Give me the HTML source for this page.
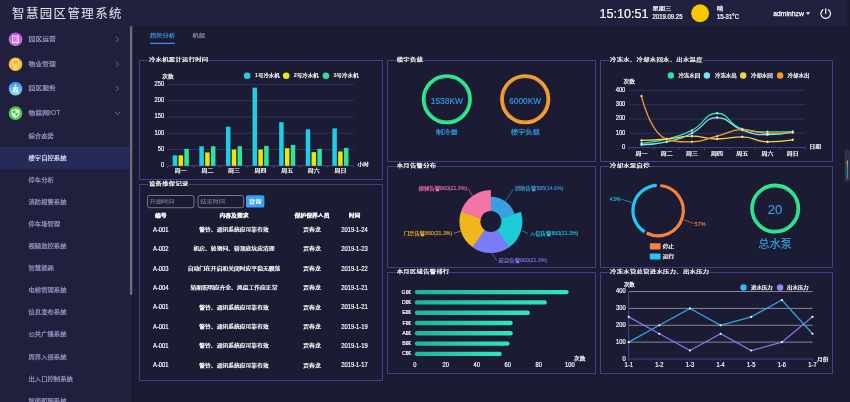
<!DOCTYPE html>
<html lang="zh-CN"><head><meta charset="utf-8"><title>智慧园区管理系统</title>
<style>
*{margin:0;padding:0;box-sizing:border-box}
html,body{width:850px;height:402px;overflow:hidden;background:#1c1b34}
svg{position:absolute;left:0;top:0;font-family:"Liberation Sans","Noto Sans CJK SC",sans-serif}
</style></head><body>
<svg width="850" height="402" viewBox="0 0 850 402">
<defs>
<linearGradient id="ig0" x1="0" y1="0" x2="0" y2="1"><stop offset="0" stop-color="#c054e8"/><stop offset="1" stop-color="#d27af2"/></linearGradient>
<linearGradient id="ig1" x1="0" y1="0" x2="0" y2="1"><stop offset="0" stop-color="#f7b230"/><stop offset="1" stop-color="#fcc640"/></linearGradient>
<linearGradient id="ig2" x1="0" y1="0" x2="0" y2="1"><stop offset="0" stop-color="#2a95f5"/><stop offset="1" stop-color="#8adaff"/></linearGradient>
<linearGradient id="ig3" x1="0" y1="0" x2="0" y2="1"><stop offset="0" stop-color="#3cc43c"/><stop offset="1" stop-color="#50d850"/></linearGradient>
<linearGradient id="rk" x1="0" y1="0" x2="1" y2="0"><stop offset="0" stop-color="#1eb597"/><stop offset="1" stop-color="#2ee8b9"/></linearGradient>
<linearGradient id="vm" x1="0" y1="0" x2="0" y2="1"><stop offset="0" stop-color="#d8d020"/><stop offset="0.4" stop-color="#3aa0c0"/><stop offset="1" stop-color="#2a8fe0"/></linearGradient>
</defs>
<rect x="0" y="0" width="847" height="26" fill="#21203f"/>
<text x="12.1" y="17.8" font-size="12.4" fill="#e4e4ee" stroke="#e4e4ee" stroke-width="0.05" letter-spacing="1.45">智慧园区管理系统</text>
<text x="599.60" y="17.76" font-size="12.6" fill="#fff" stroke="#fff" stroke-width="0.2">15:10:51</text>
<text transform="translate(652.60 10.07) scale(1.0 0.74)" font-size="6.2" fill="#fff" stroke="#fff" stroke-width="0.3">星期三</text>
<text transform="translate(652.50 18.91) scale(0.91 1.0)" font-size="6.6" fill="#fff" stroke="#fff" stroke-width="0.22">2019.09.25</text>
<circle cx="700.1" cy="13.25" r="8.95" fill="#f7c800"/>
<text transform="translate(716.90 10.02) scale(1.0 0.74)" font-size="6.2" fill="#fff" stroke="#fff" stroke-width="0.3">晴</text>
<text transform="translate(716.90 19.11) scale(0.91 1.0)" font-size="6.6" fill="#fff" stroke="#fff" stroke-width="0.22">15-31°C</text>
<text x="773.3" y="15.9" font-size="6.8" fill="#fff" stroke="#fff" stroke-width="0.25">adminhzw</text>
<path d="M805.9 12.2 L810.1 12.2 L808 14.8 Z" fill="#fff"/>
<path d="M822.95 9.72 A4.8 4.8 0 1 0 828.45 9.72" fill="none" stroke="#fff" stroke-width="1.2" stroke-linecap="round"/>
<line x1="825.7" y1="8.8" x2="825.7" y2="13.5" stroke="#fff" stroke-width="1.2" stroke-linecap="round"/>
<rect x="0" y="26" width="132.3" height="377" fill="#201f3e"/>
<rect x="132.3" y="26" width="1.7" height="377" fill="#19182e"/>
<rect x="129.9" y="26" width="2.4" height="269" rx="1.2" fill="#6c6c7e"/>
<circle cx="15.5" cy="39.3" r="6.8" fill="url(#ig0)"/>
<text transform="translate(28.60 41.00) scale(1.0 0.88)" font-size="6.8" fill="#9898c4" stroke="#9898c4" stroke-width="0.22999999999999998">园区运营</text>
<path d="M115.9 36.80 L118.6 39.30 L115.9 41.80" fill="none" stroke="#8a8aa6" stroke-width="0.75"/>
<circle cx="15.5" cy="64.2" r="6.8" fill="url(#ig1)"/>
<text transform="translate(28.60 66.00) scale(1.0 0.88)" font-size="6.8" fill="#9898c4" stroke="#9898c4" stroke-width="0.22999999999999998">物业管理</text>
<path d="M115.9 61.70 L118.6 64.20 L115.9 66.70" fill="none" stroke="#8a8aa6" stroke-width="0.75"/>
<circle cx="15.5" cy="88.6" r="6.8" fill="url(#ig2)"/>
<text transform="translate(28.60 90.00) scale(1.0 0.88)" font-size="6.8" fill="#9898c4" stroke="#9898c4" stroke-width="0.22999999999999998">园区服务</text>
<path d="M115.9 86.10 L118.6 88.60 L115.9 91.10" fill="none" stroke="#8a8aa6" stroke-width="0.75"/>
<circle cx="15.5" cy="113.1" r="6.8" fill="url(#ig3)"/>
<text transform="translate(28.60 115.00) scale(1.0 0.88)" font-size="6.8" fill="#9898c4" stroke="#9898c4" stroke-width="0.22999999999999998">物联网</text>
<text transform="translate(49.00 115.00) scale(0.95 1.0)" font-size="7.2" fill="#9898c4" stroke="#9898c4" stroke-width="0.15">IOT</text>
<path d="M114.9 112.00 L117.5 114.40 L120.1 112.00" fill="none" stroke="#8a8aa6" stroke-width="0.75"/>
<rect x="12.45" y="35.95" width="6.1" height="6.5" fill="none" stroke="#fff" stroke-width="0.8"/>
<path d="M17 36.8 L17 41.6" stroke="#fff" stroke-width="0.7"/>
<polyline points="13.7,37 15.3,38.2 13.7,39.4 15.3,40.6 13.7,41.7" fill="none" stroke="#fff" stroke-width="0.6" stroke-dasharray="0.9 0.5"/>
<path d="M13.8 66 C12.5 64.9 11.9 63.8 12 62.6 A3.45 3.45 0 0 1 18.9 62.6 C19 63.8 18.4 64.9 17.1 66 Z" fill="none" stroke="#fff" stroke-opacity="0.85" stroke-width="0.7"/>
<polyline points="13.9,63.4 14.7,65.4 15.45,63.9 16.2,65.4 17,63.4" fill="none" stroke="#fff" stroke-opacity="0.85" stroke-width="0.55"/>
<path d="M13.9 67.1 L17 67.1 M14.3 68.1 L16.6 68.1" stroke="#fff" stroke-opacity="0.85" stroke-width="0.6"/>
<ellipse cx="15.5" cy="85.1" rx="1.3" ry="0.7" fill="#fff"/>
<path d="M15.5 85.6 L15.5 87.3" stroke="#fff" stroke-width="0.6"/>
<rect x="12.9" y="87.2" width="5.2" height="5.2" fill="#fff"/>
<rect x="13.6" y="87.8" width="0.9" height="0.9" fill="#4aaaf5"/><rect x="16.5" y="87.8" width="0.9" height="0.9" fill="#4aaaf5"/>
<path d="M12.9 89.5 L18.1 89.5" stroke="#7cc8ff" stroke-width="0.4"/>
<path d="M14.8 90.6 L16.2 90.6 L15.5 91.8 Z" fill="#4aaaf5"/>
<path d="M15.5 109.1 L19.2 110.4 L19.2 113.5 Q19 116.4 15.5 117.5 Q12 116.4 11.8 113.5 L11.8 110.4 Z" fill="#fff" stroke="#fff" stroke-width="0.5"/>
<path d="M15.5 110 L15.5 113.3 L12.6 113.3 L12.6 110.9 Z M15.5 113.3 L18.4 113.3 Q18.2 115.8 15.5 116.6 Z" fill="#3cc03c"/>
<rect x="0" y="147" width="130" height="22.3" fill="#252a58"/>
<text transform="translate(28.50 138.00) scale(1.0 0.86)" font-size="6.35" fill="#9898c4" stroke="#9898c4" stroke-width="0.22999999999999998">综合态势</text>
<text transform="translate(28.50 160.05) scale(1.0 0.86)" font-size="6.35" fill="#dedef2" stroke="#dedef2" stroke-width="0.22999999999999998">楼宇自控系统</text>
<text transform="translate(28.50 182.10) scale(1.0 0.86)" font-size="6.35" fill="#9898c4" stroke="#9898c4" stroke-width="0.22999999999999998">停车分析</text>
<text transform="translate(28.50 204.15) scale(1.0 0.86)" font-size="6.35" fill="#9898c4" stroke="#9898c4" stroke-width="0.22999999999999998">消防报警系统</text>
<text transform="translate(28.50 226.20) scale(1.0 0.86)" font-size="6.35" fill="#9898c4" stroke="#9898c4" stroke-width="0.22999999999999998">停车场管理</text>
<text transform="translate(28.50 248.25) scale(1.0 0.86)" font-size="6.35" fill="#9898c4" stroke="#9898c4" stroke-width="0.22999999999999998">视频监控系统</text>
<text transform="translate(28.50 270.30) scale(1.0 0.86)" font-size="6.35" fill="#9898c4" stroke="#9898c4" stroke-width="0.22999999999999998">智慧能耗</text>
<text transform="translate(28.50 292.35) scale(1.0 0.86)" font-size="6.35" fill="#9898c4" stroke="#9898c4" stroke-width="0.22999999999999998">电梯管理系统</text>
<text transform="translate(28.50 314.40) scale(1.0 0.86)" font-size="6.35" fill="#9898c4" stroke="#9898c4" stroke-width="0.22999999999999998">信息发布系统</text>
<text transform="translate(28.50 336.45) scale(1.0 0.86)" font-size="6.35" fill="#9898c4" stroke="#9898c4" stroke-width="0.22999999999999998">公共广播系统</text>
<text transform="translate(28.50 358.50) scale(1.0 0.86)" font-size="6.35" fill="#9898c4" stroke="#9898c4" stroke-width="0.22999999999999998">周界入侵系统</text>
<text transform="translate(28.50 380.55) scale(1.0 0.86)" font-size="6.35" fill="#9898c4" stroke="#9898c4" stroke-width="0.22999999999999998">出入口控制系统</text>
<text transform="translate(28.50 402.60) scale(1.0 0.86)" font-size="6.35" fill="#9898c4" stroke="#9898c4" stroke-width="0.22999999999999998">智能照明系统</text>
<text transform="translate(149.90 36.99) scale(1.0 0.74)" font-size="6.3" fill="#3a9cf0" stroke="#3a9cf0" stroke-width="0.2">趋势分析</text>
<text transform="translate(192.50 36.99) scale(1.0 0.74)" font-size="6.3" fill="#9898b4" stroke="#9898b4" stroke-width="0.2">机组</text>
<rect x="150" y="42.7" width="24.9" height="1.35" fill="#2f90f2"/>
<rect x="139.5" y="60.5" width="243" height="119" fill="none" stroke="#423e8a" stroke-width="1"/>
<rect x="148.50" y="58" width="59.84" height="5" fill="#1c1b34"/>
<text transform="translate(148.90 61.25) scale(1.0 0.7)" font-size="6.3" fill="#fff" stroke="#fff" stroke-width="0.28" letter-spacing="0.34">冷水机累计运行时间</text>
<rect x="139.5" y="184.5" width="243" height="196" fill="none" stroke="#423e8a" stroke-width="1"/>
<rect x="148.50" y="182" width="39.92" height="5" fill="#1c1b34"/>
<text transform="translate(148.90 185.25) scale(1.0 0.7)" font-size="6.3" fill="#fff" stroke="#fff" stroke-width="0.28" letter-spacing="0.34">设备维保记录</text>
<rect x="387.5" y="60.5" width="208" height="101" fill="none" stroke="#423e8a" stroke-width="1"/>
<rect x="396.30" y="58" width="26.64" height="5" fill="#1c1b34"/>
<text transform="translate(396.70 61.25) scale(1.0 0.7)" font-size="6.3" fill="#fff" stroke="#fff" stroke-width="0.28" letter-spacing="0.34">楼宇负载</text>
<rect x="387.5" y="166.5" width="208" height="101" fill="none" stroke="#423e8a" stroke-width="1"/>
<rect x="396.30" y="164" width="39.92" height="5" fill="#1c1b34"/>
<text transform="translate(396.70 167.25) scale(1.0 0.7)" font-size="6.3" fill="#fff" stroke="#fff" stroke-width="0.28" letter-spacing="0.34">本月告警分布</text>
<rect x="387.5" y="272.5" width="208" height="101" fill="none" stroke="#423e8a" stroke-width="1"/>
<rect x="396.30" y="270" width="53.20" height="5" fill="#1c1b34"/>
<text transform="translate(396.70 273.25) scale(1.0 0.7)" font-size="6.3" fill="#fff" stroke="#fff" stroke-width="0.28" letter-spacing="0.34">本月区域告警排行</text>
<rect x="600.5" y="60.5" width="232" height="101" fill="none" stroke="#423e8a" stroke-width="1"/>
<rect x="609.70" y="58" width="93.04" height="5" fill="#1c1b34"/>
<text transform="translate(610.10 61.25) scale(1.0 0.7)" font-size="6.3" fill="#fff" stroke="#fff" stroke-width="0.28" letter-spacing="0.34">冷冻水、冷却水回水、出水温度</text>
<rect x="600.5" y="166.5" width="232" height="101" fill="none" stroke="#423e8a" stroke-width="1"/>
<rect x="609.70" y="164" width="39.92" height="5" fill="#1c1b34"/>
<text transform="translate(610.10 167.25) scale(1.0 0.7)" font-size="6.3" fill="#fff" stroke="#fff" stroke-width="0.28" letter-spacing="0.34">冷却水泵启停</text>
<rect x="600.5" y="272.5" width="232" height="101" fill="none" stroke="#423e8a" stroke-width="1"/>
<rect x="609.70" y="270" width="99.68" height="5" fill="#1c1b34"/>
<text transform="translate(610.10 273.25) scale(1.0 0.7)" font-size="6.3" fill="#fff" stroke="#fff" stroke-width="0.28" letter-spacing="0.34">冷冻水管总管进水压力、出水压力</text>
<line x1="167.5" y1="149.52" x2="353.7" y2="149.52" stroke="#37357a" stroke-width="0.8"/>
<line x1="167.5" y1="133.24" x2="353.7" y2="133.24" stroke="#37357a" stroke-width="0.8"/>
<line x1="167.5" y1="116.96" x2="353.7" y2="116.96" stroke="#37357a" stroke-width="0.8"/>
<line x1="167.5" y1="100.68" x2="353.7" y2="100.68" stroke="#37357a" stroke-width="0.8"/>
<line x1="167.5" y1="84.40" x2="353.7" y2="84.40" stroke="#37357a" stroke-width="0.8"/>
<text transform="translate(164.20 167.19) scale(0.9 1.0)" font-size="6.4" fill="#fff" stroke="#fff" stroke-width="0.18" text-anchor="end">0</text>
<text transform="translate(164.20 150.91) scale(0.9 1.0)" font-size="6.4" fill="#fff" stroke="#fff" stroke-width="0.18" text-anchor="end">50</text>
<text transform="translate(164.20 134.63) scale(0.9 1.0)" font-size="6.4" fill="#fff" stroke="#fff" stroke-width="0.18" text-anchor="end">100</text>
<text transform="translate(164.20 118.35) scale(0.9 1.0)" font-size="6.4" fill="#fff" stroke="#fff" stroke-width="0.18" text-anchor="end">150</text>
<text transform="translate(164.20 102.07) scale(0.9 1.0)" font-size="6.4" fill="#fff" stroke="#fff" stroke-width="0.18" text-anchor="end">200</text>
<text transform="translate(164.20 85.79) scale(0.9 1.0)" font-size="6.4" fill="#fff" stroke="#fff" stroke-width="0.18" text-anchor="end">250</text>
<line x1="167.5" y1="165.8" x2="353.7" y2="165.8" stroke="#4a4896" stroke-width="0.9"/>
<line x1="167.50" y1="165.8" x2="167.50" y2="168.0" stroke="#4a4896" stroke-width="0.8"/>
<line x1="194.10" y1="165.8" x2="194.10" y2="168.0" stroke="#4a4896" stroke-width="0.8"/>
<line x1="220.70" y1="165.8" x2="220.70" y2="168.0" stroke="#4a4896" stroke-width="0.8"/>
<line x1="247.30" y1="165.8" x2="247.30" y2="168.0" stroke="#4a4896" stroke-width="0.8"/>
<line x1="273.90" y1="165.8" x2="273.90" y2="168.0" stroke="#4a4896" stroke-width="0.8"/>
<line x1="300.50" y1="165.8" x2="300.50" y2="168.0" stroke="#4a4896" stroke-width="0.8"/>
<line x1="327.10" y1="165.8" x2="327.10" y2="168.0" stroke="#4a4896" stroke-width="0.8"/>
<line x1="353.70" y1="165.8" x2="353.70" y2="168.0" stroke="#4a4896" stroke-width="0.8"/>
<text transform="translate(180.80 172.41) scale(1.0 0.74)" font-size="6.0" fill="#fff" stroke="#fff" stroke-width="0.26" text-anchor="middle">周一</text>
<rect x="172.75" y="155.38" width="4.5" height="10.42" fill="#1fcde6"/>
<rect x="178.55" y="155.38" width="4.5" height="10.42" fill="#ece600"/>
<rect x="184.35" y="148.87" width="4.5" height="16.93" fill="#2fe29d"/>
<text transform="translate(207.40 172.41) scale(1.0 0.74)" font-size="6.0" fill="#fff" stroke="#fff" stroke-width="0.26" text-anchor="middle">周二</text>
<rect x="199.35" y="146.26" width="4.5" height="19.54" fill="#1fcde6"/>
<rect x="205.15" y="152.45" width="4.5" height="13.35" fill="#ece600"/>
<rect x="210.95" y="146.26" width="4.5" height="19.54" fill="#2fe29d"/>
<text transform="translate(234.00 172.41) scale(1.0 0.74)" font-size="6.0" fill="#fff" stroke="#fff" stroke-width="0.26" text-anchor="middle">周三</text>
<rect x="225.95" y="126.73" width="4.5" height="39.07" fill="#1fcde6"/>
<rect x="231.75" y="149.52" width="4.5" height="16.28" fill="#ece600"/>
<rect x="237.55" y="146.26" width="4.5" height="19.54" fill="#2fe29d"/>
<text transform="translate(260.60 172.41) scale(1.0 0.74)" font-size="6.0" fill="#fff" stroke="#fff" stroke-width="0.26" text-anchor="middle">周四</text>
<rect x="252.55" y="87.66" width="4.5" height="78.14" fill="#1fcde6"/>
<rect x="258.35" y="149.52" width="4.5" height="16.28" fill="#ece600"/>
<rect x="264.15" y="145.94" width="4.5" height="19.86" fill="#2fe29d"/>
<text transform="translate(287.20 172.41) scale(1.0 0.74)" font-size="6.0" fill="#fff" stroke="#fff" stroke-width="0.26" text-anchor="middle">周五</text>
<rect x="279.15" y="122.17" width="4.5" height="43.63" fill="#1fcde6"/>
<rect x="284.95" y="148.22" width="4.5" height="17.58" fill="#ece600"/>
<rect x="290.75" y="144.96" width="4.5" height="20.84" fill="#2fe29d"/>
<text transform="translate(313.80 172.41) scale(1.0 0.74)" font-size="6.0" fill="#fff" stroke="#fff" stroke-width="0.26" text-anchor="middle">周六</text>
<rect x="305.75" y="129.33" width="4.5" height="36.47" fill="#1fcde6"/>
<rect x="311.55" y="152.12" width="4.5" height="13.68" fill="#ece600"/>
<rect x="317.35" y="148.87" width="4.5" height="16.93" fill="#2fe29d"/>
<text transform="translate(340.40 172.41) scale(1.0 0.74)" font-size="6.0" fill="#fff" stroke="#fff" stroke-width="0.26" text-anchor="middle">周日</text>
<rect x="332.35" y="128.36" width="4.5" height="37.44" fill="#1fcde6"/>
<rect x="338.15" y="151.47" width="4.5" height="14.33" fill="#ece600"/>
<rect x="343.95" y="147.89" width="4.5" height="17.91" fill="#2fe29d"/>
<text transform="translate(162.20 77.82) scale(1.0 0.74)" font-size="5.7" fill="#fff" stroke="#fff" stroke-width="0.26">次数</text>
<text transform="translate(357.50 166.22) scale(1.0 0.74)" font-size="5.7" fill="#fff" stroke="#fff" stroke-width="0.26">小时</text>
<circle cx="247.1" cy="75.8" r="3.3" fill="#1fd0e8"/>
<text transform="translate(255.00 77.00) scale(0.9 1.0)" font-size="6.0" fill="#fff" stroke="#fff" stroke-width="0.18">1</text>
<text transform="translate(258.00 77.00) scale(1.0 0.8)" font-size="5.45" fill="#fff" stroke="#fff" stroke-width="0.26">号冷水机</text>
<circle cx="286.2" cy="75.8" r="3.3" fill="#f0e800"/>
<text transform="translate(293.80 77.00) scale(0.9 1.0)" font-size="6.0" fill="#fff" stroke="#fff" stroke-width="0.18">2</text>
<text transform="translate(296.80 77.00) scale(1.0 0.8)" font-size="5.45" fill="#fff" stroke="#fff" stroke-width="0.26">号冷水机</text>
<circle cx="325.9" cy="75.8" r="3.3" fill="#2fe09a"/>
<text transform="translate(333.60 77.00) scale(0.9 1.0)" font-size="6.0" fill="#fff" stroke="#fff" stroke-width="0.18">3</text>
<text transform="translate(336.60 77.00) scale(1.0 0.8)" font-size="5.45" fill="#fff" stroke="#fff" stroke-width="0.26">号冷水机</text>
<rect x="147.5" y="195.5" width="46.4" height="12.2" rx="2" fill="none" stroke="#8e8e9e" stroke-width="0.8"/>
<rect x="198" y="195.5" width="45.6" height="12.2" rx="2" fill="none" stroke="#8e8e9e" stroke-width="0.8"/>
<text transform="translate(149.70 203.07) scale(1.0 0.74)" font-size="6.2" fill="#76768c" stroke="#76768c" stroke-width="0.18">开始时间</text>
<text transform="translate(200.30 203.07) scale(1.0 0.74)" font-size="6.2" fill="#76768c" stroke="#76768c" stroke-width="0.18">结束时间</text>
<line x1="195.3" y1="201.6" x2="196.3" y2="201.6" stroke="#8e8e9e" stroke-opacity="0.7" stroke-width="0.5"/>
<rect x="246" y="195.2" width="18.4" height="12.3" rx="1.5" fill="#3aa0f5"/>
<text transform="translate(255.20 203.07) scale(1.0 0.74)" font-size="6.2" fill="#fff" stroke="#fff" stroke-width="0.26" text-anchor="middle">查询</text>
<text transform="translate(160.80 217.07) scale(1.0 0.74)" font-size="5.85" fill="#fff" stroke="#fff" stroke-width="0.43" text-anchor="middle">编号</text>
<text transform="translate(234.00 217.07) scale(1.0 0.74)" font-size="5.85" fill="#fff" stroke="#fff" stroke-width="0.43" text-anchor="middle">内容及要求</text>
<text transform="translate(312.00 217.07) scale(1.0 0.74)" font-size="5.85" fill="#fff" stroke="#fff" stroke-width="0.43" text-anchor="middle">保护保养人员</text>
<text transform="translate(354.50 217.07) scale(1.0 0.74)" font-size="5.85" fill="#fff" stroke="#fff" stroke-width="0.43" text-anchor="middle">时间</text>
<text transform="translate(160.80 231.80) scale(0.87 1.0)" font-size="6.7" fill="#fff" stroke="#fff" stroke-width="0.18" text-anchor="middle">A-001</text>
<text transform="translate(234.00 231.05) scale(1.0 0.74)" font-size="5.8" fill="#fff" stroke="#fff" stroke-width="0.26" text-anchor="middle">警铃、通讯系统应可靠有效</text>
<text transform="translate(312.00 231.05) scale(1.0 0.74)" font-size="5.8" fill="#fff" stroke="#fff" stroke-width="0.26" text-anchor="middle">贾春龙</text>
<text transform="translate(354.50 231.80) scale(0.87 1.0)" font-size="6.7" fill="#fff" stroke="#fff" stroke-width="0.18" text-anchor="middle">2019-1-24</text>
<text transform="translate(160.80 251.18) scale(0.87 1.0)" font-size="6.7" fill="#fff" stroke="#fff" stroke-width="0.18" text-anchor="middle">A-002</text>
<text transform="translate(234.00 250.43) scale(1.0 0.74)" font-size="5.8" fill="#fff" stroke="#fff" stroke-width="0.26" text-anchor="middle">机房、轮滑间、轿顶底坑应清理</text>
<text transform="translate(312.00 250.43) scale(1.0 0.74)" font-size="5.8" fill="#fff" stroke="#fff" stroke-width="0.26" text-anchor="middle">贾春龙</text>
<text transform="translate(354.50 251.18) scale(0.87 1.0)" font-size="6.7" fill="#fff" stroke="#fff" stroke-width="0.18" text-anchor="middle">2019-1-23</text>
<text transform="translate(160.80 270.56) scale(0.87 1.0)" font-size="6.7" fill="#fff" stroke="#fff" stroke-width="0.18" text-anchor="middle">A-003</text>
<text transform="translate(234.00 269.81) scale(1.0 0.74)" font-size="5.8" fill="#fff" stroke="#fff" stroke-width="0.26" text-anchor="middle">自动门在开启和关闭时应平稳无震荡</text>
<text transform="translate(312.00 269.81) scale(1.0 0.74)" font-size="5.8" fill="#fff" stroke="#fff" stroke-width="0.26" text-anchor="middle">贾春龙</text>
<text transform="translate(354.50 270.56) scale(0.87 1.0)" font-size="6.7" fill="#fff" stroke="#fff" stroke-width="0.18" text-anchor="middle">2019-1-22</text>
<text transform="translate(160.80 289.94) scale(0.87 1.0)" font-size="6.7" fill="#fff" stroke="#fff" stroke-width="0.18" text-anchor="middle">A-004</text>
<text transform="translate(234.00 289.19) scale(1.0 0.74)" font-size="5.8" fill="#fff" stroke="#fff" stroke-width="0.26" text-anchor="middle">轿厢照明应齐全、风扇工作应正常</text>
<text transform="translate(312.00 289.19) scale(1.0 0.74)" font-size="5.8" fill="#fff" stroke="#fff" stroke-width="0.26" text-anchor="middle">贾春龙</text>
<text transform="translate(354.50 289.94) scale(0.87 1.0)" font-size="6.7" fill="#fff" stroke="#fff" stroke-width="0.18" text-anchor="middle">2019-1-21</text>
<text transform="translate(160.80 309.32) scale(0.87 1.0)" font-size="6.7" fill="#fff" stroke="#fff" stroke-width="0.18" text-anchor="middle">A-001</text>
<text transform="translate(234.00 308.57) scale(1.0 0.74)" font-size="5.8" fill="#fff" stroke="#fff" stroke-width="0.26" text-anchor="middle">警铃、通讯系统应可靠有效</text>
<text transform="translate(312.00 308.57) scale(1.0 0.74)" font-size="5.8" fill="#fff" stroke="#fff" stroke-width="0.26" text-anchor="middle">贾春龙</text>
<text transform="translate(354.50 309.32) scale(0.87 1.0)" font-size="6.7" fill="#fff" stroke="#fff" stroke-width="0.18" text-anchor="middle">2019-1-21</text>
<text transform="translate(160.80 328.70) scale(0.87 1.0)" font-size="6.7" fill="#fff" stroke="#fff" stroke-width="0.18" text-anchor="middle">A-001</text>
<text transform="translate(234.00 327.95) scale(1.0 0.74)" font-size="5.8" fill="#fff" stroke="#fff" stroke-width="0.26" text-anchor="middle">警铃、通讯系统应可靠有效</text>
<text transform="translate(312.00 327.95) scale(1.0 0.74)" font-size="5.8" fill="#fff" stroke="#fff" stroke-width="0.26" text-anchor="middle">贾春龙</text>
<text transform="translate(354.50 328.70) scale(0.87 1.0)" font-size="6.7" fill="#fff" stroke="#fff" stroke-width="0.18" text-anchor="middle">2019-1-19</text>
<text transform="translate(160.80 348.08) scale(0.87 1.0)" font-size="6.7" fill="#fff" stroke="#fff" stroke-width="0.18" text-anchor="middle">A-001</text>
<text transform="translate(234.00 347.33) scale(1.0 0.74)" font-size="5.8" fill="#fff" stroke="#fff" stroke-width="0.26" text-anchor="middle">警铃、通讯系统应可靠有效</text>
<text transform="translate(312.00 347.33) scale(1.0 0.74)" font-size="5.8" fill="#fff" stroke="#fff" stroke-width="0.26" text-anchor="middle">贾春龙</text>
<text transform="translate(354.50 348.08) scale(0.87 1.0)" font-size="6.7" fill="#fff" stroke="#fff" stroke-width="0.18" text-anchor="middle">2019-1-19</text>
<text transform="translate(160.80 367.46) scale(0.87 1.0)" font-size="6.7" fill="#fff" stroke="#fff" stroke-width="0.18" text-anchor="middle">A-001</text>
<text transform="translate(234.00 366.71) scale(1.0 0.74)" font-size="5.8" fill="#fff" stroke="#fff" stroke-width="0.26" text-anchor="middle">警铃、通讯系统应可靠有效</text>
<text transform="translate(312.00 366.71) scale(1.0 0.74)" font-size="5.8" fill="#fff" stroke="#fff" stroke-width="0.26" text-anchor="middle">贾春龙</text>
<text transform="translate(354.50 367.46) scale(0.87 1.0)" font-size="6.7" fill="#fff" stroke="#fff" stroke-width="0.18" text-anchor="middle">2019-1-17</text>
<circle cx="446.85" cy="99.2" r="23.15" fill="none" stroke="#2eea8e" stroke-width="3.8"/>
<circle cx="446.85" cy="99.2" r="22.15" fill="none" stroke="#1c1b34" stroke-opacity="0.3" stroke-width="0.4"/>
<text transform="translate(446.85 103.75) scale(0.95 1.0)" font-size="8.8" fill="#30a2ea" stroke="#30a2ea" stroke-width="0.12" text-anchor="middle">1538KW</text>
<text transform="translate(446.85 134.10) scale(1.0 0.82)" font-size="7.3" fill="#2ea0e8" stroke="#2ea0e8" stroke-width="0.2" text-anchor="middle">制冷量</text>
<circle cx="525.2" cy="99.2" r="23.15" fill="none" stroke="#f7a030" stroke-width="3.8"/>
<circle cx="525.2" cy="99.2" r="22.15" fill="none" stroke="#1c1b34" stroke-opacity="0.3" stroke-width="0.4"/>
<text transform="translate(525.20 103.75) scale(0.95 1.0)" font-size="8.8" fill="#30a2ea" stroke="#30a2ea" stroke-width="0.12" text-anchor="middle">6000KW</text>
<text transform="translate(525.20 134.10) scale(1.0 0.82)" font-size="7.3" fill="#2ea0e8" stroke="#2ea0e8" stroke-width="0.2" text-anchor="middle">楼宇负载</text>
<path d="M490.68 211.10 L490.38 196.72 A24.88 24.88 0 0 1 514.72 214.41 L500.95 218.57 A10.5 10.5 0 0 0 490.68 211.10 Z" fill="#3a9ee2"/>
<path d="M500.89 218.36 L520.86 211.87 A31.50 31.50 0 0 1 508.88 247.47 L496.89 230.22 A10.5 10.5 0 0 0 500.89 218.36 Z" fill="#1ccad8"/>
<path d="M497.07 230.09 L509.42 247.08 A31.50 31.50 0 0 1 471.86 246.69 L484.55 229.96 A10.5 10.5 0 0 0 497.07 230.09 Z" fill="#7b7cf7"/>
<path d="M484.73 230.09 L472.38 247.08 A31.50 31.50 0 0 1 461.15 211.24 L480.98 218.15 A10.5 10.5 0 0 0 484.73 230.09 Z" fill="#f0b61e"/>
<path d="M480.91 218.36 L460.94 211.87 A31.50 31.50 0 0 1 490.90 190.10 L490.90 211.10 A10.5 10.5 0 0 0 480.91 218.36 Z" fill="#f474a8"/>
<polyline points="505.2,201.4 513.5,188.9" fill="none" stroke="#3a9ee2" stroke-width="0.6"/>
<text transform="translate(514.80 190.00) scale(1.0 0.84)" font-size="5.4" fill="#3a9ee2" stroke="#3a9ee2" stroke-width="0.18">消防告警</text>
<text transform="translate(536.40 190.00) scale(0.9 1.0)" font-size="5.8" fill="#3a9ee2" stroke="#3a9ee2" stroke-width="0.1">589(14.6%)</text>
<polyline points="522.4,230.9 528,233.6" fill="none" stroke="#1ccad8" stroke-width="0.6"/>
<text transform="translate(529.80 235.00) scale(1.0 0.84)" font-size="5.4" fill="#1ccad8" stroke="#1ccad8" stroke-width="0.18">入侵告警</text>
<text transform="translate(551.40 235.00) scale(0.9 1.0)" font-size="5.8" fill="#1ccad8" stroke="#1ccad8" stroke-width="0.1">860(21.3%)</text>
<polyline points="491,252.2 497,260.7" fill="none" stroke="#7b7cf7" stroke-width="0.6"/>
<text transform="translate(498.50 262.00) scale(1.0 0.84)" font-size="5.4" fill="#7b7cf7" stroke="#7b7cf7" stroke-width="0.18">应急告警</text>
<text transform="translate(520.10 262.00) scale(0.9 1.0)" font-size="5.8" fill="#7b7cf7" stroke="#7b7cf7" stroke-width="0.1">860(21.3%)</text>
<polyline points="461,231.1 453.5,233.4" fill="none" stroke="#f0b61e" stroke-width="0.6"/>
<text transform="translate(403.71 235.00) scale(1.0 0.84)" font-size="5.4" fill="#f0b61e" stroke="#f0b61e" stroke-width="0.18">门禁告警</text>
<text transform="translate(425.31 235.00) scale(0.9 1.0)" font-size="5.8" fill="#f0b61e" stroke="#f0b61e" stroke-width="0.1">860(21.3%)</text>
<polyline points="472.3,195.6 468,188.4" fill="none" stroke="#f474a8" stroke-width="0.6"/>
<text transform="translate(418.51 190.00) scale(1.0 0.84)" font-size="5.4" fill="#f474a8" stroke="#f474a8" stroke-width="0.18">视频告警</text>
<text transform="translate(440.11 190.00) scale(0.9 1.0)" font-size="5.8" fill="#f474a8" stroke="#f474a8" stroke-width="0.1">860(21.3%)</text>
<rect x="414.8" y="289.90" width="153.91" height="4.4" rx="2.2" fill="url(#rk)"/>
<text transform="translate(401.60 294.00) scale(0.85 1.0)" font-size="6.2" fill="#fff" stroke="#fff" stroke-width="0.18">G</text>
<text transform="translate(405.70 294.00) scale(1.0 0.74)" font-size="5.6" fill="#fff" stroke="#fff" stroke-width="0.26">区</text>
<rect x="414.8" y="300.20" width="132.06" height="4.4" rx="2.2" fill="url(#rk)"/>
<text transform="translate(401.89 304.00) scale(0.85 1.0)" font-size="6.2" fill="#fff" stroke="#fff" stroke-width="0.18">D</text>
<text transform="translate(405.70 304.00) scale(1.0 0.74)" font-size="5.6" fill="#fff" stroke="#fff" stroke-width="0.26">区</text>
<rect x="414.8" y="310.50" width="115.16" height="4.4" rx="2.2" fill="url(#rk)"/>
<text transform="translate(402.18 314.00) scale(0.85 1.0)" font-size="6.2" fill="#fff" stroke="#fff" stroke-width="0.18">E</text>
<text transform="translate(405.70 314.00) scale(1.0 0.74)" font-size="5.6" fill="#fff" stroke="#fff" stroke-width="0.26">区</text>
<rect x="414.8" y="320.80" width="97.96" height="4.4" rx="2.2" fill="url(#rk)"/>
<text transform="translate(402.48 325.00) scale(0.85 1.0)" font-size="6.2" fill="#fff" stroke="#fff" stroke-width="0.18">F</text>
<text transform="translate(405.70 325.00) scale(1.0 0.74)" font-size="5.6" fill="#fff" stroke="#fff" stroke-width="0.26">区</text>
<rect x="414.8" y="331.10" width="97.96" height="4.4" rx="2.2" fill="url(#rk)"/>
<text transform="translate(402.18 335.00) scale(0.85 1.0)" font-size="6.2" fill="#fff" stroke="#fff" stroke-width="0.18">A</text>
<text transform="translate(405.70 335.00) scale(1.0 0.74)" font-size="5.6" fill="#fff" stroke="#fff" stroke-width="0.26">区</text>
<rect x="414.8" y="341.40" width="94.70" height="4.4" rx="2.2" fill="url(#rk)"/>
<text transform="translate(402.18 345.00) scale(0.85 1.0)" font-size="6.2" fill="#fff" stroke="#fff" stroke-width="0.18">B</text>
<text transform="translate(405.70 345.00) scale(1.0 0.74)" font-size="5.6" fill="#fff" stroke="#fff" stroke-width="0.26">区</text>
<rect x="414.8" y="351.70" width="86.95" height="4.4" rx="2.2" fill="url(#rk)"/>
<text transform="translate(401.89 355.00) scale(0.85 1.0)" font-size="6.2" fill="#fff" stroke="#fff" stroke-width="0.18">C</text>
<text transform="translate(405.70 355.00) scale(1.0 0.74)" font-size="5.6" fill="#fff" stroke="#fff" stroke-width="0.26">区</text>
<text transform="translate(414.80 367.19) scale(0.9 1.0)" font-size="6.4" fill="#fff" stroke="#fff" stroke-width="0.18" text-anchor="middle">0</text>
<text transform="translate(445.80 367.19) scale(0.9 1.0)" font-size="6.4" fill="#fff" stroke="#fff" stroke-width="0.18" text-anchor="middle">20</text>
<text transform="translate(476.80 367.19) scale(0.9 1.0)" font-size="6.4" fill="#fff" stroke="#fff" stroke-width="0.18" text-anchor="middle">40</text>
<text transform="translate(507.80 367.19) scale(0.9 1.0)" font-size="6.4" fill="#fff" stroke="#fff" stroke-width="0.18" text-anchor="middle">60</text>
<text transform="translate(538.80 367.19) scale(0.9 1.0)" font-size="6.4" fill="#fff" stroke="#fff" stroke-width="0.18" text-anchor="middle">80</text>
<text transform="translate(569.80 367.19) scale(0.9 1.0)" font-size="6.4" fill="#fff" stroke="#fff" stroke-width="0.18" text-anchor="middle">100</text>
<text transform="translate(574.00 360.12) scale(1.0 0.74)" font-size="5.7" fill="#fff" stroke="#fff" stroke-width="0.26">次数</text>
<line x1="628.9" y1="133.28" x2="805.3" y2="133.28" stroke="#37357a" stroke-width="0.8"/>
<line x1="628.9" y1="118.96" x2="805.3" y2="118.96" stroke="#37357a" stroke-width="0.8"/>
<line x1="628.9" y1="104.64" x2="805.3" y2="104.64" stroke="#37357a" stroke-width="0.8"/>
<line x1="628.9" y1="90.32" x2="805.3" y2="90.32" stroke="#37357a" stroke-width="0.8"/>
<text transform="translate(625.30 149.09) scale(0.9 1.0)" font-size="6.4" fill="#fff" stroke="#fff" stroke-width="0.18" text-anchor="end">0</text>
<text transform="translate(625.30 134.77) scale(0.9 1.0)" font-size="6.4" fill="#fff" stroke="#fff" stroke-width="0.18" text-anchor="end">100</text>
<text transform="translate(625.30 120.45) scale(0.9 1.0)" font-size="6.4" fill="#fff" stroke="#fff" stroke-width="0.18" text-anchor="end">200</text>
<text transform="translate(625.30 106.13) scale(0.9 1.0)" font-size="6.4" fill="#fff" stroke="#fff" stroke-width="0.18" text-anchor="end">300</text>
<text transform="translate(625.30 91.81) scale(0.9 1.0)" font-size="6.4" fill="#fff" stroke="#fff" stroke-width="0.18" text-anchor="end">400</text>
<line x1="628.9" y1="147.6" x2="805.3" y2="147.6" stroke="#4a4896" stroke-width="0.9"/>
<line x1="628.90" y1="147.6" x2="628.90" y2="149.79999999999998" stroke="#4a4896" stroke-width="0.8"/>
<line x1="654.10" y1="147.6" x2="654.10" y2="149.79999999999998" stroke="#4a4896" stroke-width="0.8"/>
<line x1="679.30" y1="147.6" x2="679.30" y2="149.79999999999998" stroke="#4a4896" stroke-width="0.8"/>
<line x1="704.50" y1="147.6" x2="704.50" y2="149.79999999999998" stroke="#4a4896" stroke-width="0.8"/>
<line x1="729.70" y1="147.6" x2="729.70" y2="149.79999999999998" stroke="#4a4896" stroke-width="0.8"/>
<line x1="754.90" y1="147.6" x2="754.90" y2="149.79999999999998" stroke="#4a4896" stroke-width="0.8"/>
<line x1="780.10" y1="147.6" x2="780.10" y2="149.79999999999998" stroke="#4a4896" stroke-width="0.8"/>
<line x1="805.30" y1="147.6" x2="805.30" y2="149.79999999999998" stroke="#4a4896" stroke-width="0.8"/>
<text transform="translate(641.50 154.61) scale(1.0 0.74)" font-size="6.0" fill="#fff" stroke="#fff" stroke-width="0.26" text-anchor="middle">周一</text>
<text transform="translate(666.70 154.61) scale(1.0 0.74)" font-size="6.0" fill="#fff" stroke="#fff" stroke-width="0.26" text-anchor="middle">周二</text>
<text transform="translate(691.90 154.61) scale(1.0 0.74)" font-size="6.0" fill="#fff" stroke="#fff" stroke-width="0.26" text-anchor="middle">周三</text>
<text transform="translate(717.10 154.61) scale(1.0 0.74)" font-size="6.0" fill="#fff" stroke="#fff" stroke-width="0.26" text-anchor="middle">周四</text>
<text transform="translate(742.30 154.61) scale(1.0 0.74)" font-size="6.0" fill="#fff" stroke="#fff" stroke-width="0.26" text-anchor="middle">周五</text>
<text transform="translate(767.50 154.61) scale(1.0 0.74)" font-size="6.0" fill="#fff" stroke="#fff" stroke-width="0.26" text-anchor="middle">周六</text>
<text transform="translate(792.70 154.61) scale(1.0 0.74)" font-size="6.0" fill="#fff" stroke="#fff" stroke-width="0.26" text-anchor="middle">周日</text>
<text transform="translate(623.50 83.42) scale(1.0 0.74)" font-size="5.7" fill="#fff" stroke="#fff" stroke-width="0.26">次数</text>
<text transform="translate(809.50 147.62) scale(1.0 0.74)" font-size="5.7" fill="#fff" stroke="#fff" stroke-width="0.26">日期</text>
<path d="M641.50 143.30 C641.50 143.30 654.36 142.16 666.70 139.01 C679.56 135.72 680.16 136.42 691.90 130.42 C705.36 123.53 704.34 113.23 717.10 113.23 C729.54 113.23 728.70 125.63 742.30 128.98 C753.90 131.85 754.86 131.85 767.50 131.85 C780.06 131.85 792.70 131.56 792.70 131.56" fill="none" stroke="#2ee0a4" stroke-width="1.3"/>
<circle cx="641.50" cy="143.30" r="1" fill="#fff" stroke="#2ee0a4" stroke-width="0.4"/>
<circle cx="666.70" cy="139.01" r="1" fill="#fff" stroke="#2ee0a4" stroke-width="0.4"/>
<circle cx="691.90" cy="130.42" r="1" fill="#fff" stroke="#2ee0a4" stroke-width="0.4"/>
<circle cx="717.10" cy="113.23" r="1" fill="#fff" stroke="#2ee0a4" stroke-width="0.4"/>
<circle cx="742.30" cy="128.98" r="1" fill="#fff" stroke="#2ee0a4" stroke-width="0.4"/>
<circle cx="767.50" cy="131.85" r="1" fill="#fff" stroke="#2ee0a4" stroke-width="0.4"/>
<circle cx="792.70" cy="131.56" r="1" fill="#fff" stroke="#2ee0a4" stroke-width="0.4"/>
<path d="M641.50 144.74 C641.50 144.74 654.41 144.67 666.70 141.87 C679.61 138.94 679.99 139.03 691.90 133.28 C705.19 126.86 704.16 117.53 717.10 117.53 C729.36 117.53 729.10 125.63 742.30 130.13 C754.30 134.22 754.83 134.71 767.50 134.71 C780.03 134.71 792.70 132.13 792.70 132.13" fill="none" stroke="#76e8f4" stroke-width="1.3"/>
<circle cx="641.50" cy="144.74" r="1" fill="#fff" stroke="#76e8f4" stroke-width="0.4"/>
<circle cx="666.70" cy="141.87" r="1" fill="#fff" stroke="#76e8f4" stroke-width="0.4"/>
<circle cx="691.90" cy="133.28" r="1" fill="#fff" stroke="#76e8f4" stroke-width="0.4"/>
<circle cx="717.10" cy="117.53" r="1" fill="#fff" stroke="#76e8f4" stroke-width="0.4"/>
<circle cx="742.30" cy="130.13" r="1" fill="#fff" stroke="#76e8f4" stroke-width="0.4"/>
<circle cx="767.50" cy="134.71" r="1" fill="#fff" stroke="#76e8f4" stroke-width="0.4"/>
<circle cx="792.70" cy="132.13" r="1" fill="#fff" stroke="#76e8f4" stroke-width="0.4"/>
<path d="M641.50 140.44 C641.50 140.44 654.13 140.08 666.70 139.01 C679.33 137.93 679.30 136.14 691.90 136.14 C704.50 136.14 704.48 139.01 717.10 139.01 C729.68 139.01 729.80 136.86 742.30 136.86 C755.00 136.86 754.80 141.87 767.50 141.87 C780.00 141.87 792.70 139.87 792.70 139.87" fill="none" stroke="#f2d64a" stroke-width="1.3"/>
<circle cx="641.50" cy="140.44" r="1" fill="#fff" stroke="#f2d64a" stroke-width="0.4"/>
<circle cx="666.70" cy="139.01" r="1" fill="#fff" stroke="#f2d64a" stroke-width="0.4"/>
<circle cx="691.90" cy="136.14" r="1" fill="#fff" stroke="#f2d64a" stroke-width="0.4"/>
<circle cx="717.10" cy="139.01" r="1" fill="#fff" stroke="#f2d64a" stroke-width="0.4"/>
<circle cx="742.30" cy="136.86" r="1" fill="#fff" stroke="#f2d64a" stroke-width="0.4"/>
<circle cx="767.50" cy="141.87" r="1" fill="#fff" stroke="#f2d64a" stroke-width="0.4"/>
<circle cx="792.70" cy="139.87" r="1" fill="#fff" stroke="#f2d64a" stroke-width="0.4"/>
<path d="M641.50 96.05 C641.50 96.05 650.00 133.38 666.70 139.01 C675.20 141.87 679.42 141.87 691.90 141.87 C704.62 141.87 704.54 139.18 717.10 136.14 C729.74 133.09 729.56 129.70 742.30 129.70 C754.76 129.70 754.84 133.28 767.50 133.28 C780.04 133.28 792.70 132.56 792.70 132.56" fill="none" stroke="#f59b2b" stroke-width="1.3"/>
<circle cx="641.50" cy="96.05" r="1" fill="#fff" stroke="#f59b2b" stroke-width="0.4"/>
<circle cx="666.70" cy="139.01" r="1" fill="#fff" stroke="#f59b2b" stroke-width="0.4"/>
<circle cx="691.90" cy="141.87" r="1" fill="#fff" stroke="#f59b2b" stroke-width="0.4"/>
<circle cx="717.10" cy="136.14" r="1" fill="#fff" stroke="#f59b2b" stroke-width="0.4"/>
<circle cx="742.30" cy="129.70" r="1" fill="#fff" stroke="#f59b2b" stroke-width="0.4"/>
<circle cx="767.50" cy="133.28" r="1" fill="#fff" stroke="#f59b2b" stroke-width="0.4"/>
<circle cx="792.70" cy="132.56" r="1" fill="#fff" stroke="#f59b2b" stroke-width="0.4"/>
<circle cx="670.9" cy="75.5" r="3.2" fill="#2ee0a4"/>
<text transform="translate(678.40 77.18) scale(1.0 0.8)" font-size="5.45" fill="#fff" stroke="#fff" stroke-width="0.26">冷冻水回</text>
<circle cx="706.9" cy="75.5" r="3.2" fill="#76e8f4"/>
<text transform="translate(715.00 77.18) scale(1.0 0.8)" font-size="5.45" fill="#fff" stroke="#fff" stroke-width="0.26">冷冻水出</text>
<circle cx="743.2" cy="75.5" r="3.2" fill="#f2d64a"/>
<text transform="translate(751.00 77.18) scale(1.0 0.8)" font-size="5.45" fill="#fff" stroke="#fff" stroke-width="0.26">冷却水回</text>
<circle cx="780.1" cy="75.5" r="3.2" fill="#f59b2b"/>
<text transform="translate(787.60 77.18) scale(1.0 0.8)" font-size="5.45" fill="#fff" stroke="#fff" stroke-width="0.26">冷却水出</text>
<path d="M660.30 185.50 A25.2 25.2 0 1 1 646.66 233.05" fill="none" stroke="#f8813e" stroke-width="3.2"/>
<path d="M644.75 231.97 A25.2 25.2 0 0 1 656.78 185.43" fill="none" stroke="#1fc8f2" stroke-width="3.2"/>
<polyline points="621.8,199.3 631.9,202.6" fill="none" stroke="#1fc8f2" stroke-width="0.6"/>
<text transform="translate(620.70 201.22) scale(0.9 1.0)" font-size="6.2" fill="#1fc8f2" stroke="#1fc8f2" stroke-width="0.1" text-anchor="end">43%</text>
<polyline points="683.9,219.8 693.9,223.5" fill="none" stroke="#f8813e" stroke-width="0.6"/>
<text transform="translate(694.60 226.02) scale(0.9 1.0)" font-size="6.2" fill="#f8813e" stroke="#f8813e" stroke-width="0.1">57%</text>
<rect x="649.8" y="243.3" width="10.8" height="6.1" rx="0.8" fill="#f8813e"/>
<rect x="649.8" y="253.5" width="10.8" height="6.1" rx="0.8" fill="#1fc8f2"/>
<text transform="translate(662.80 247.95) scale(1.0 0.74)" font-size="5.8" fill="#fff" stroke="#fff" stroke-width="0.26">停止</text>
<text transform="translate(662.80 258.15) scale(1.0 0.74)" font-size="5.8" fill="#fff" stroke="#fff" stroke-width="0.26">运行</text>
<circle cx="775.2" cy="208.6" r="23.1" fill="none" stroke="#30e88e" stroke-width="3.8"/>
<circle cx="775.2" cy="208.6" r="22.1" fill="none" stroke="#1c1b34" stroke-opacity="0.3" stroke-width="0.4"/>
<text x="775.00" y="214.45" font-size="13" fill="#3aa2ec" stroke="#3aa2ec" stroke-width="0.1" text-anchor="middle">20</text>
<text x="775.00" y="248.41" font-size="11.2" fill="#3aa2ec" stroke="#3aa2ec" stroke-width="0.12" text-anchor="middle">总水泵</text>
<line x1="628.7" y1="342.14" x2="812.5" y2="342.14" stroke="#b8b8c4" stroke-width="0.7"/>
<line x1="628.7" y1="325.28" x2="812.5" y2="325.28" stroke="#b8b8c4" stroke-width="0.7"/>
<line x1="628.7" y1="308.42" x2="812.5" y2="308.42" stroke="#b8b8c4" stroke-width="0.7"/>
<line x1="628.7" y1="291.56" x2="812.5" y2="291.56" stroke="#b8b8c4" stroke-width="0.7"/>
<text transform="translate(625.60 360.79) scale(0.9 1.0)" font-size="6.4" fill="#fff" stroke="#fff" stroke-width="0.18" text-anchor="end">0</text>
<text transform="translate(625.60 343.93) scale(0.9 1.0)" font-size="6.4" fill="#fff" stroke="#fff" stroke-width="0.18" text-anchor="end">100</text>
<text transform="translate(625.60 327.07) scale(0.9 1.0)" font-size="6.4" fill="#fff" stroke="#fff" stroke-width="0.18" text-anchor="end">200</text>
<text transform="translate(625.60 310.21) scale(0.9 1.0)" font-size="6.4" fill="#fff" stroke="#fff" stroke-width="0.18" text-anchor="end">300</text>
<text transform="translate(625.60 293.35) scale(0.9 1.0)" font-size="6.4" fill="#fff" stroke="#fff" stroke-width="0.18" text-anchor="end">400</text>
<line x1="628.7" y1="359" x2="812.5" y2="359" stroke="#4a4896" stroke-width="0.9"/>
<line x1="628.7" y1="291.56" x2="628.7" y2="359" stroke="#4a4896" stroke-width="0.9"/>
<text transform="translate(628.70 367.19) scale(0.9 1.0)" font-size="6.4" fill="#fff" stroke="#fff" stroke-width="0.18" text-anchor="middle">1-1</text>
<line x1="628.70" y1="359" x2="628.70" y2="361.2" stroke="#4a4896" stroke-width="0.8"/>
<text transform="translate(659.33 367.19) scale(0.9 1.0)" font-size="6.4" fill="#fff" stroke="#fff" stroke-width="0.18" text-anchor="middle">1-2</text>
<line x1="659.33" y1="359" x2="659.33" y2="361.2" stroke="#4a4896" stroke-width="0.8"/>
<text transform="translate(689.97 367.19) scale(0.9 1.0)" font-size="6.4" fill="#fff" stroke="#fff" stroke-width="0.18" text-anchor="middle">1-3</text>
<line x1="689.97" y1="359" x2="689.97" y2="361.2" stroke="#4a4896" stroke-width="0.8"/>
<text transform="translate(720.60 367.19) scale(0.9 1.0)" font-size="6.4" fill="#fff" stroke="#fff" stroke-width="0.18" text-anchor="middle">1-4</text>
<line x1="720.60" y1="359" x2="720.60" y2="361.2" stroke="#4a4896" stroke-width="0.8"/>
<text transform="translate(751.23 367.19) scale(0.9 1.0)" font-size="6.4" fill="#fff" stroke="#fff" stroke-width="0.18" text-anchor="middle">1-5</text>
<line x1="751.23" y1="359" x2="751.23" y2="361.2" stroke="#4a4896" stroke-width="0.8"/>
<text transform="translate(781.87 367.19) scale(0.9 1.0)" font-size="6.4" fill="#fff" stroke="#fff" stroke-width="0.18" text-anchor="middle">1-6</text>
<line x1="781.87" y1="359" x2="781.87" y2="361.2" stroke="#4a4896" stroke-width="0.8"/>
<text transform="translate(812.50 367.19) scale(0.9 1.0)" font-size="6.4" fill="#fff" stroke="#fff" stroke-width="0.18" text-anchor="middle">1-7</text>
<line x1="812.50" y1="359" x2="812.50" y2="361.2" stroke="#4a4896" stroke-width="0.8"/>
<text transform="translate(623.90 286.27) scale(1.0 0.85)" font-size="5.4" fill="#fff" stroke="#fff" stroke-width="0.26">次数</text>
<text transform="translate(817.00 360.62) scale(1.0 0.74)" font-size="5.7" fill="#fff" stroke="#fff" stroke-width="0.26">月份</text>
<polyline points="628.70,342.14 659.33,325.28 689.97,308.42 720.60,325.28 751.23,316.85 781.87,299.99 812.50,333.71" fill="none" stroke="#2fa8e2" stroke-width="1.25"/>
<circle cx="628.70" cy="342.14" r="1.05" fill="#fff"/>
<circle cx="659.33" cy="325.28" r="1.05" fill="#fff"/>
<circle cx="689.97" cy="308.42" r="1.05" fill="#fff"/>
<circle cx="720.60" cy="325.28" r="1.05" fill="#fff"/>
<circle cx="751.23" cy="316.85" r="1.05" fill="#fff"/>
<circle cx="781.87" cy="299.99" r="1.05" fill="#fff"/>
<circle cx="812.50" cy="333.71" r="1.05" fill="#fff"/>
<polyline points="628.70,316.85 659.33,333.71 689.97,350.57 720.60,333.71 751.23,350.57 781.87,342.14 812.50,316.85" fill="none" stroke="#7b7beb" stroke-width="1.25"/>
<circle cx="628.70" cy="316.85" r="1.05" fill="#fff"/>
<circle cx="659.33" cy="333.71" r="1.05" fill="#fff"/>
<circle cx="689.97" cy="350.57" r="1.05" fill="#fff"/>
<circle cx="720.60" cy="333.71" r="1.05" fill="#fff"/>
<circle cx="751.23" cy="350.57" r="1.05" fill="#fff"/>
<circle cx="781.87" cy="342.14" r="1.05" fill="#fff"/>
<circle cx="812.50" cy="316.85" r="1.05" fill="#fff"/>
<circle cx="743.5" cy="287.5" r="3.2" fill="#3db4f5"/>
<text transform="translate(751.00 289.18) scale(1.0 0.8)" font-size="5.45" fill="#fff" stroke="#fff" stroke-width="0.26">进水压力</text>
<circle cx="780.1" cy="287.5" r="3.2" fill="#8a8af5"/>
<text transform="translate(787.00 289.18) scale(1.0 0.8)" font-size="5.45" fill="#fff" stroke="#fff" stroke-width="0.26">出水压力</text>
<rect x="845.3" y="149.8" width="3.8" height="31" rx="0.8" fill="#2a2d45" stroke="#4d5366" stroke-width="0.6"/>
<rect x="846.8" y="160.5" width="1.1" height="18.5" fill="url(#vm)"/>
</svg>
</body></html>
